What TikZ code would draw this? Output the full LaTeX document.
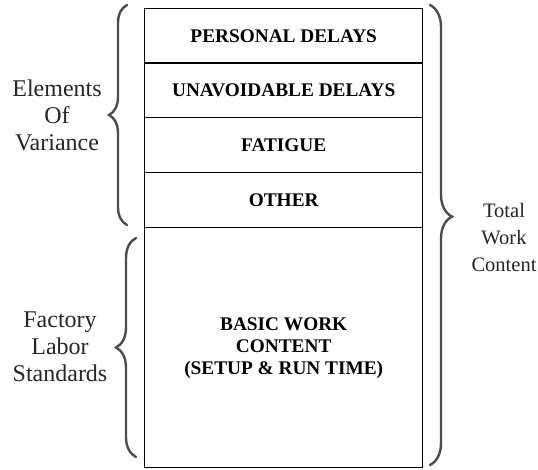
\documentclass[tikz,border=0pt]{standalone}
\usepackage{fontspec}
\setmainfont{Liberation Serif}
\usetikzlibrary{decorations.pathreplacing}
\begin{document}
\begin{tikzpicture}[x=1pt,y=1pt,
  cell/.style={draw=black,line width=1.4pt,minimum width=278pt,minimum height=55pt,inner sep=0pt,
    font=\fontsize{19.3}{22}\selectfont\bfseries,align=center,anchor=north west},
  side/.style={font=\fontsize{24}{27}\selectfont,align=center,text=black!85},
  brc/.style={decorate,draw=black!70,line width=2.4pt,line cap=round}]
\useasboundingbox (0,0) rectangle (538,469);
\node[cell] (pd) at (144,461) {PERSONAL DELAYS};
\node[cell] (ud) at (144,407) {UNAVOIDABLE DELAYS};
\node[cell] (fa) at (144,352) {FATIGUE};
\node[cell] (ot) at (144,297) {OTHER};
\node[cell,minimum height=240pt] (bw) at (144,242) {BASIC WORK\\CONTENT\\(SETUP \& RUN TIME)};
\draw[brc,decoration={brace,amplitude=18pt}] (127,244) -- (127,464) coordinate[pos=0.5] (b1);
\draw[brc,decoration={brace,amplitude=20pt}] (136,12) -- (136,231) coordinate[pos=0.5] (b2);
\draw[brc,decoration={brace,amplitude=22pt,aspect=0.46}] (430,464) -- (430,4) coordinate[pos=0.46] (b3);
\node[side] (ev) at (57,354) {Elements\\Of\\Variance};
\node[side] (fl) at (60,122) {Factory\\Labor\\Standards};
\node[side,font=\fontsize{20.5}{27}\selectfont] (tw) at (504,232) {Total\\Work\\Content};
\end{tikzpicture}
\end{document}
